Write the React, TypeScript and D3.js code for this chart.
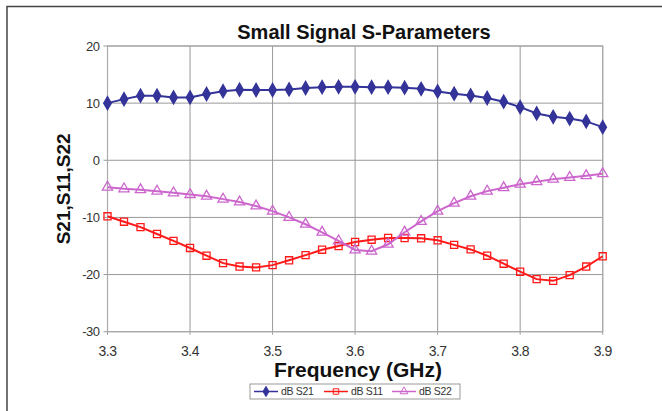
import React, { useEffect, useRef } from "react";
import * as d3 from "d3";

const freqs = d3.range(31).map(i => +(3.3 + i * 0.02).toFixed(2));
const xTicks = [3.3, 3.4, 3.5, 3.6, 3.7, 3.8, 3.9];
const yTicks = [20, 10, 0, -10, -20, -30];

const s21 = [10.0, 10.7, 11.3, 11.3, 11.0, 11.0, 11.6, 12.1, 12.35, 12.3, 12.3, 12.4, 12.65, 12.8, 12.85, 12.85,
  12.8, 12.8, 12.7, 12.5, 12.05, 11.65, 11.35, 10.9, 10.25, 9.3, 8.2, 7.6, 7.3, 6.8, 5.8];
const s11 = [-9.8, -10.75, -11.7, -12.9, -14.1, -15.35, -16.7, -18.0, -18.6, -18.75, -18.35, -17.5, -16.6, -15.65,
  -15.0, -14.3, -13.9, -13.6, -13.6, -13.65, -14.0, -14.8, -15.6, -16.7, -18.1, -19.5, -20.8, -21.1, -20.1, -18.6, -16.8];
const s22 = [-4.7, -5.0, -5.15, -5.4, -5.7, -6.0, -6.3, -6.8, -7.3, -8.0, -8.9, -10.0, -11.2, -12.6, -14.1, -15.7,
  -15.9, -14.7, -12.6, -10.7, -8.9, -7.5, -6.3, -5.4, -4.8, -4.2, -3.75, -3.3, -3.0, -2.7, -2.35];

const series = [
  { name: "dB S21", values: s21, color: "#333399", marker: "diamond" },
  { name: "dB S11", values: s11, color: "#ff1a1a", marker: "square" },
  { name: "dB S22", values: s22, color: "#cc66cc", marker: "triangle" },
];

export default function App() {
  const svgRef = useRef<SVGSVGElement>(null);

  useEffect(() => {
    const svg = d3.select(svgRef.current);
    svg.selectAll("*").remove();

    const left = 107.5, right = 602.7, top = 46, bottom = 331.7;
    const font = "Arial, 'Liberation Sans', sans-serif";

    const x = d3.scaleLinear().domain([3.3, 3.9]).range([left, right]);
    const y = d3.scaleLinear().domain([-30, 20]).range([bottom, top]);

    // outer frame (top and left edges only visible)
    svg.append("path")
      .attr("d", `M7,411 L7,6.5 L662,6.5`)
      .attr("fill", "none")
      .attr("stroke", "#444")
      .attr("stroke-width", 1.5);

    // grid
    svg.append("g").selectAll("line").data(xTicks).enter().append("line")
      .attr("x1", d => x(d)).attr("x2", d => x(d))
      .attr("y1", top).attr("y2", bottom + 3)
      .attr("stroke", "#999").attr("stroke-width", 1);
    svg.append("g").selectAll("line").data(yTicks).enter().append("line")
      .attr("x1", left - 4).attr("x2", right)
      .attr("y1", d => y(d)).attr("y2", d => y(d))
      .attr("stroke", "#999").attr("stroke-width", 1);

    svg.append("rect")
      .attr("x", left).attr("y", top)
      .attr("width", right - left).attr("height", bottom - top)
      .attr("fill", "none").attr("stroke", "#aaa").attr("stroke-width", 1.2);

    // tick labels
    svg.append("g").selectAll("text").data(yTicks).enter().append("text")
      .attr("x", left - 8).attr("y", d => y(d)).attr("dy", "0.35em")
      .attr("text-anchor", "end")
      .attr("font-family", font).attr("font-size", 13).attr("fill", "#333")
      .attr("letter-spacing", -0.5)
      .text(d => d);
    svg.append("g").selectAll("text").data(xTicks).enter().append("text")
      .attr("x", d => x(d)).attr("y", bottom + 24)
      .attr("text-anchor", "middle")
      .attr("font-family", font).attr("font-size", 14).attr("fill", "#333")
      .attr("letter-spacing", -0.5)
      .text(d => d.toFixed(1));

    // titles
    svg.append("text")
      .attr("x", 364).attr("y", 39)
      .attr("text-anchor", "middle")
      .attr("font-family", font).attr("font-size", 20).attr("font-weight", "bold").attr("fill", "#111")
      .text("Small Signal S-Parameters");
    svg.append("text")
      .attr("x", 358).attr("y", 377)
      .attr("text-anchor", "middle")
      .attr("font-family", font).attr("font-size", 21).attr("font-weight", "bold").attr("fill", "#111")
      .text("Frequency (GHz)");
    svg.append("text")
      .attr("transform", `translate(70,${(top + bottom) / 2}) rotate(-90)`)
      .attr("text-anchor", "middle")
      .attr("font-family", font).attr("font-size", 19).attr("font-weight", "bold").attr("fill", "#111")
      .text("S21,S11,S22");

    const symbolFor = (m: string, size: number) => {
      if (m === "diamond") return d3.symbol().type(d3.symbolDiamond).size(size)();
      if (m === "square") return d3.symbol().type(d3.symbolSquare).size(size)();
      return d3.symbol().type(d3.symbolTriangle).size(size * 0.9)();
    };

    const line = d3.line<number>()
      .x((d, i) => x(freqs[i]))
      .y(d => y(d));

    series.forEach(s => {
      const g = svg.append("g");
      g.append("path")
        .attr("d", line(s.values))
        .attr("fill", "none")
        .attr("stroke", s.color)
        .attr("stroke-width", 2);
      g.selectAll("path.m").data(s.values).enter().append("path")
        .attr("class", "m")
        .attr("transform", (d, i) => `translate(${x(freqs[i])},${y(d)})`)
        .attr("d", symbolFor(s.marker, 50))
        .attr("fill", s.marker === "diamond" ? s.color : "none")
        .attr("stroke", s.color)
        .attr("stroke-width", 1.3);
    });

    // legend
    const lg = svg.append("g").attr("transform", "translate(250,384)");
    lg.append("rect")
      .attr("x", 0).attr("y", 0).attr("width", 210).attr("height", 15)
      .attr("fill", "white").attr("stroke", "#999").attr("stroke-width", 1);
    const itemX = [4, 74, 142];
    series.forEach((s, i) => {
      const it = lg.append("g").attr("transform", `translate(${itemX[i]},7.5)`);
      it.append("line").attr("x1", 0).attr("x2", 24).attr("y1", 0).attr("y2", 0)
        .attr("stroke", s.color).attr("stroke-width", 1.5);
      it.append("path")
        .attr("transform", "translate(12,0)")
        .attr("d", symbolFor(s.marker, 30))
        .attr("fill", s.marker === "diamond" ? s.color : "none")
        .attr("stroke", s.color).attr("stroke-width", 1);
      it.append("text")
        .attr("x", 27).attr("y", 0).attr("dy", "0.35em")
        .attr("font-family", font).attr("font-size", 10.5).attr("fill", "#333")
        .attr("letter-spacing", -0.3)
        .text(s.name);
    });
  }, []);

  return (
    <svg ref={svgRef} width={662} height={411}
      style={{ position: "absolute", left: 0, top: 0, background: "white" }} />
  );
}
